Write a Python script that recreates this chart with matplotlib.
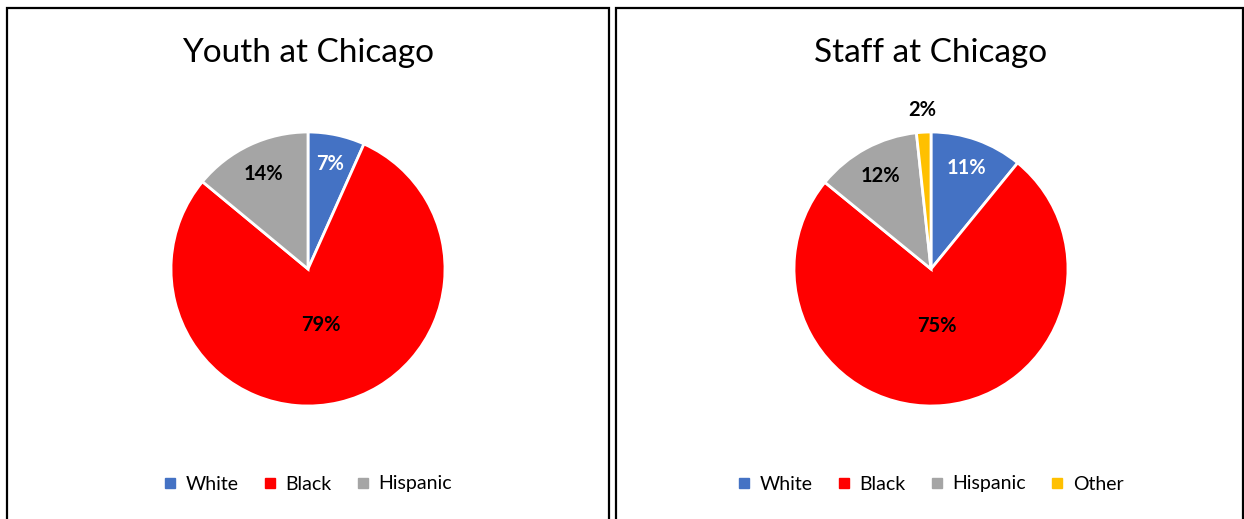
import numpy as np
import matplotlib.pyplot as plt
from matplotlib.patches import Rectangle
from matplotlib.lines import Line2D

plt.rcParams['font.family'] = ['Lato', 'DejaVu Sans']

# data
youth_labels = ["White", "Black", "Hispanic"]
youth_values = [6.7, 79.3, 14.0]
staff_labels = ["White", "Black", "Hispanic", "Other"]
staff_values = [10.9, 75.0, 12.4, 1.7]
colors = {"White": "#4472C4", "Black": "#FF0000", "Hispanic": "#A5A5A5", "Other": "#FFC000"}
label_colors = {"White": "white", "Black": "black", "Hispanic": "black", "Other": "black"}
label_dist = {"White": 0.78, "Black": 0.42, "Hispanic": 0.77, "Other": 1.16}

W, H = 1244, 519
fig = plt.figure(figsize=(W / 100, H / 100), dpi=100)

# panel frames
for x0, x1 in [(7, 609), (616, 1243)]:
    fig.patches.append(Rectangle((x0 / W, -0.05), (x1 - x0) / W, (H - 8) / H + 0.05,
                                 transform=fig.transFigure, fill=False,
                                 edgecolor='black', linewidth=1.6))


def draw_pie(cx, title, labels, values):
    r = 137
    ax = fig.add_axes([(cx - r) / W, (H - 269 - r) / H, 2 * r / W, 2 * r / H])
    wedges, _ = ax.pie(values, colors=[colors[l] for l in labels], startangle=90,
                       counterclock=False, radius=1,
                       wedgeprops=dict(edgecolor='white', linewidth=2))
    ax.set_xlim(-1, 1)
    ax.set_ylim(-1, 1)
    ax.set_aspect('equal')
    ax.axis('off')
    for w, lab, v in zip(wedges, labels, values):
        ang = np.deg2rad((w.theta1 + w.theta2) / 2)
        d = label_dist[lab]
        ax.text(d * np.cos(ang), d * np.sin(ang), "%d%%" % round(v),
                ha='center', va='center', fontsize=14.5, fontweight='bold',
                color=label_colors[lab])
    fig.text(cx / W, 1 - 53 / H, title, ha='center', va='center', fontsize=24)
    handles = [Line2D([], [], marker='s', linestyle='none', markersize=7,
                      color=colors[l]) for l in labels]
    fig.legend(handles, labels, loc='center', bbox_to_anchor=(cx / W, 1 - 484 / H),
               ncol=len(labels), frameon=False, fontsize=14, handlelength=0.6,
               handletextpad=0.5, columnspacing=1.3)


draw_pie(308, "Youth at Chicago", youth_labels, youth_values)
draw_pie(931, "Staff at Chicago", staff_labels, staff_values)

fig.savefig("out.png", dpi=100)
